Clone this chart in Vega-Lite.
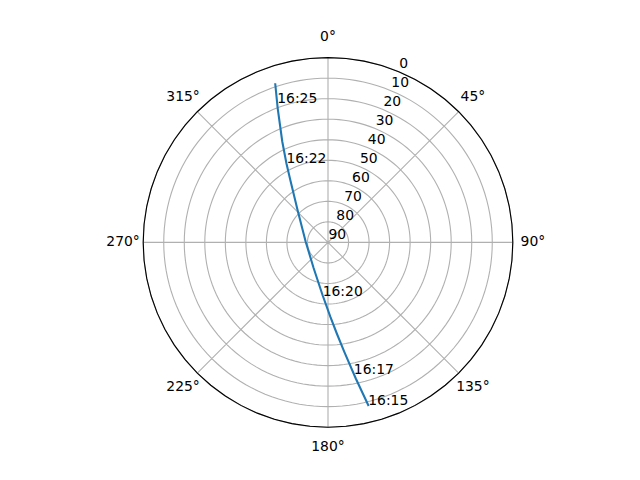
{
  "$schema": "https://vega.github.io/schema/vega-lite/v6.json",
  "width": 640,
  "height": 480,
  "autosize": "none",
  "padding": 0,
  "background": "white",
  "config": {"view": {"stroke": null}},
  "projection": {
    "type": "azimuthalEquidistant",
    "rotate": [0, -90, 0],
    "reflectY": true,
    "scale": 117.65,
    "translate": [328, 242.4]
  },
  "layer": [
    {
      "data": {
        "graticule": {
          "extentMajor": [[-180, 0], [180, 90]],
          "extentMinor": [[-180, 0], [180, 90]],
          "stepMajor": [90, 360],
          "stepMinor": [45, 10]
        }
      },
      "mark": {"type": "geoshape", "filled": false, "stroke": "#b0b0b0", "strokeWidth": 1.1}
    },
    {
      "data": {
        "values": [
          {"type": "Feature", "properties": {}, "geometry": {"type": "LineString", "coordinates": [[0, 0], [90, 0], [180, 0], [270, 0], [360, 0]]}}
        ]
      },
      "mark": {"type": "geoshape", "filled": false, "stroke": "black", "strokeWidth": 1.1}
    },
    {
      "data": {
        "values": [
          {"i": 1, "az": 166.11, "el": 8.43},
          {"i": 2, "az": 168.46, "el": 22.35},
          {"i": 3, "az": 171.57, "el": 36.19},
          {"i": 4, "az": 174.39, "el": 45.17},
          {"i": 5, "az": 178.23, "el": 53.8},
          {"i": 6, "az": 185.7, "el": 64.01},
          {"i": 7, "az": 209.36, "el": 75.7},
          {"i": 8, "az": 271.8, "el": 79.13},
          {"i": 9, "az": 316.12, "el": 68.78},
          {"i": 10, "az": 328.86, "el": 54.5},
          {"i": 11, "az": 332.26, "el": 46.48},
          {"i": 12, "az": 335.59, "el": 36.15},
          {"i": 13, "az": 339.44, "el": 20.25},
          {"i": 14, "az": 341.56, "el": 8.84}
        ]
      },
      "mark": {"type": "line", "color": "#1f77b4", "strokeWidth": 2.08, "strokeCap": "square"},
      "encoding": {
        "longitude": {"field": "az", "type": "quantitative"},
        "latitude": {"field": "el", "type": "quantitative"},
        "order": {"field": "i", "type": "quantitative"}
      }
    },
    {
      "data": {
        "values": [
          {"label": "16:15", "az": 166.11, "el": 8.43},
          {"label": "16:17", "az": 168.91, "el": 24.69},
          {"label": "16:20", "az": 185.7, "el": 64.01},
          {"label": "16:22", "az": 332.26, "el": 46.48},
          {"label": "16:25", "az": 339.94, "el": 17.88}
        ]
      },
      "mark": {"type": "text", "align": "left", "baseline": "alphabetic", "font": "DejaVu Sans", "fontSize": 13.9, "color": "black"},
      "encoding": {
        "longitude": {"field": "az", "type": "quantitative"},
        "latitude": {"field": "el", "type": "quantitative"},
        "text": {"field": "label", "type": "nominal"}
      }
    },
    {
      "data": {
        "values": [
          {"el": 0}, {"el": 10}, {"el": 20}, {"el": 30}, {"el": 40},
          {"el": 50}, {"el": 60}, {"el": 70}, {"el": 80}, {"el": 90}
        ]
      },
      "mark": {"type": "text", "align": "left", "baseline": "alphabetic", "dx": 0.5, "dy": -3.5, "font": "DejaVu Sans", "fontSize": 13.9, "color": "black"},
      "encoding": {
        "longitude": {"datum": 22.5},
        "latitude": {"field": "el", "type": "quantitative"},
        "text": {"field": "el", "type": "quantitative"}
      }
    },
    {
      "data": {
        "values": [
          {"deg": 0, "label": "0°"},
          {"deg": 45, "label": "45°"},
          {"deg": 90, "label": "90°"},
          {"deg": 135, "label": "135°"},
          {"deg": 180, "label": "180°"},
          {"deg": 225, "label": "225°"},
          {"deg": 270, "label": "270°"},
          {"deg": 315, "label": "315°"}
        ]
      },
      "mark": {"type": "text", "align": "center", "baseline": "middle", "font": "DejaVu Sans", "fontSize": 13.9, "color": "black"},
      "encoding": {
        "longitude": {"field": "deg", "type": "quantitative"},
        "latitude": {"datum": -9.8},
        "text": {"field": "label", "type": "nominal"}
      }
    }
  ]
}
